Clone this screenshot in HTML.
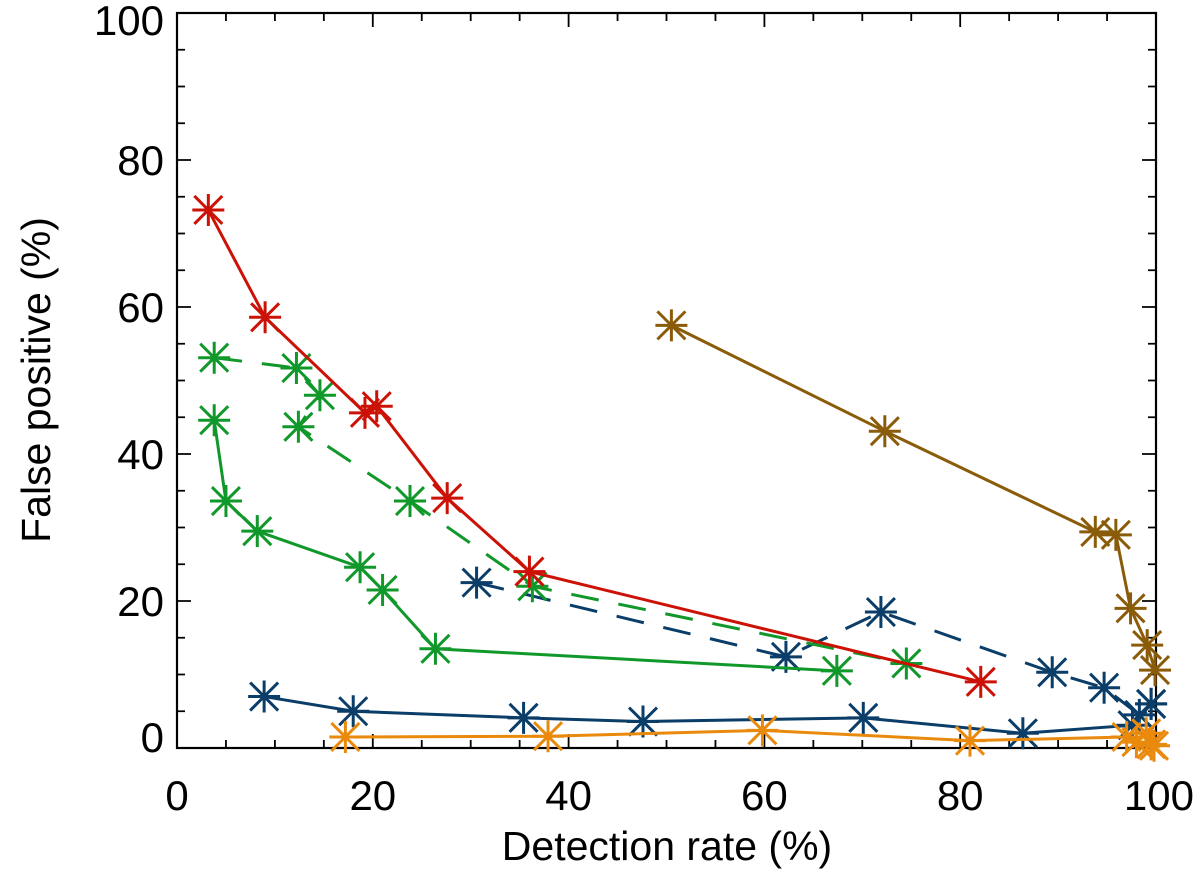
<!DOCTYPE html>
<html><head><meta charset="utf-8"><style>
html,body{margin:0;padding:0;background:#fff}
svg text{font-family:"Liberation Sans",Arial,sans-serif;fill:#000}
</style></head><body>
<svg id="chart" width="1200" height="880" xmlns="http://www.w3.org/2000/svg">
<g id="axes"></g><g id="series"></g>
<text x="667" y="860" font-size="41" text-anchor="middle">Detection rate (%)</text>
<text transform="translate(50,380) rotate(-90)" font-size="41" text-anchor="middle">False positive (%)</text>
</svg>
<script>
const xTicks=[0,20,40,60,80,100];
const yTicks=[0,20,40,60,80,100];
const redX=[3.2,9.0,19.2,20.4,27.6,36.0,82.1];
const redY=[73.2,58.6,45.6,46.5,34.0,24.0,9.0];
const greenSolidX=[3.8,5.0,8.2,18.7,21.0,26.4,67.4];
const greenSolidY=[44.6,33.6,29.5,24.6,21.5,13.5,10.5];
const greenDashX=[3.8,12.2,14.6,12.4,23.8,36.3,74.5];
const greenDashY=[53.1,51.7,48.0,43.7,33.6,22.0,11.5];
const blueDashX=[30.6,62.2,71.9,89.4,94.7,98.3,99.5];
const blueDashY=[22.5,12.4,18.5,10.3,8.2,4.5,6.0];
const blueSolidX=[8.9,18.0,35.4,47.6,70.1,86.4,97.6,99.5];
const blueSolidY=[7.0,5.0,4.1,3.6,4.1,2.0,3.1,6.0];
const orangeX=[17.2,37.9,59.8,81.0,97.0,98.0,99.0,99.5,99.8];
const orangeY=[1.5,1.6,2.4,1.0,1.5,0.8,2.0,0.5,0.3];
const brownX=[50.5,72.3,93.8,95.9,97.4,99.1,99.9];
const brownY=[57.5,43.1,29.4,29.0,19.0,14.0,10.6];

const X0=177,X1=1156,Y0=748,Y1=13;
const sx=v=>X0+(X1-X0)*v/100;
const sy=v=>Y0-(Y0-Y1)*v/100;
const NS='http://www.w3.org/2000/svg';
function mk(tag,attrs,parent){const e=document.createElementNS(NS,tag);for(const k in attrs)e.setAttribute(k,attrs[k]);parent.appendChild(e);return e;}
const axes=document.getElementById('axes');
const frame=mk('rect',{x:X0,y:Y1,width:X1-X0,height:Y0-Y1,fill:'none',stroke:'#000','stroke-width':2.2},axes);


for(let v=0;v<=100;v+=5){
  const major=v%20===0, L=major?14:8;
  const x=sx(v), y=sy(v);
  const t1=mk('path',{d:`M${x},${Y0}V${Y0-L}M${x},${Y1}V${Y1+L}M${X0},${y}H${X0+L}M${X1},${y}H${X1-L}`,stroke:'#000','stroke-width':1.8},axes);
  
  
}
xTicks.forEach(v=>{
  const t=mk('text',{x:sx(v),y:810,'font-size':42,'text-anchor':'middle'},axes);
  if(v===100){t.setAttribute('x',X1+38);t.setAttribute('text-anchor','end');}
  t.textContent=v;
  
  
});
yTicks.forEach(v=>{
  const t=mk('text',{x:164,y:sy(v)+15,'font-size':42,'text-anchor':'end'},axes);
  if(v===0)t.setAttribute('y',sy(v)+4);
  if(v===100)t.setAttribute('y',sy(v)+22);
  t.textContent=v;
  
  
});
const S=document.getElementById('series');
function series(name,xs,ys,color,dash){
  const g=mk('g',{},S);
  
  
  const pts=xs.map((x,i)=>sx(x)+','+sy(ys[i])).join(' ');
  const pl=mk('polyline',{points:pts,fill:'none',stroke:color,'stroke-width':3,'stroke-dasharray':dash?'28,20':'none'},g);
  
  
  xs.forEach((x,i)=>{
    const cx=sx(x),cy=sy(ys[i]),r=16,d=14;
    const m=mk('path',{d:`M${cx-r},${cy}H${cx+r}M${cx},${cy-r}V${cy+r}M${cx-d},${cy-d}L${cx+d},${cy+d}M${cx-d},${cy+d}L${cx+d},${cy-d}`,stroke:color,'stroke-width':3,fill:'none'},g);
    
    
  });
}
series('brown-series',brownX,brownY,'#8a5c0a',false);
series('blue-dashed-series',blueDashX,blueDashY,'#0b3d69',true);
series('green-dashed-series',greenDashX,greenDashY,'#11982a',true);
series('green-solid-series',greenSolidX,greenSolidY,'#11982a',false);
series('red-series',redX,redY,'#cc1206',false);
series('blue-solid-series',blueSolidX,blueSolidY,'#0b3d69',false);
series('orange-series',orangeX,orangeY,'#ea8a0c',false);
</script>
</body></html>
